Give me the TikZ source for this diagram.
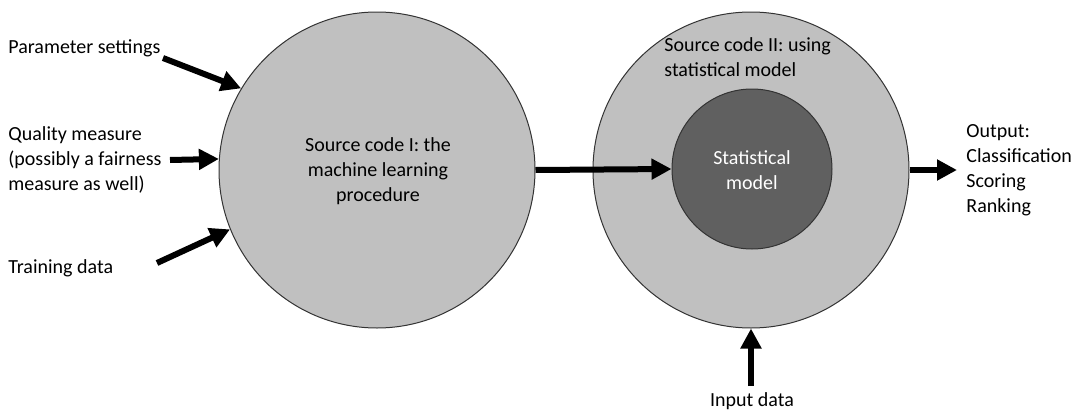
\documentclass[tikz,border=0pt]{standalone}
\usepackage{fontspec}
\setmainfont{Carlito}
\usetikzlibrary{arrows.meta}
\definecolor{outerc}{RGB}{192,192,192}
\definecolor{innerc}{RGB}{96,96,96}
\newcommand{\Rbig}{316}
\newcommand{\Rsmall}{160}

\begin{document}
\begin{tikzpicture}[
    x=0.5pt, y=-0.5pt,
    every node/.style={font=\fontsize{10}{12.5}\selectfont},
    outer/.style={circle, draw=black!80, line width=0.5pt, fill=outerc,
      minimum size=\Rbig*0.5pt, inner sep=0pt},
    inner/.style={circle, draw=black!80, line width=0.5pt, fill=innerc,
      minimum size=\Rsmall*0.5pt, inner sep=0pt},
    flow/.style={-{Triangle[length=10pt, width=10pt]}, line width=3pt},
    tag/.style={align=left, inner sep=0pt},
  ]
  \useasboundingbox (0,0) rectangle (1084,413);

  % --- the two procedures
  \node[outer] (src1) at (377,170) {};
  \node[align=center, inner sep=0pt] (src1txt) at (378,171)
    {Source code I: the\\machine learning\\procedure};
  \node[outer] (src2) at (751,170) {};
  \node[inner] (stat) at (752,169) {};
  \node[align=center, inner sep=0pt, text=white] (stattxt) at (752,170)
    {Statistical\\model};
  \node[tag, anchor=west] (src2txt) at (664,57)
    {Source code II: using\\statistical model};

  % --- inputs on the left
  \node[tag, anchor=west] (param) at (8,48) {Parameter settings};
  \node[tag, anchor=west] (qual) at (8,160)
    {Quality measure\\(possibly a fairness\\measure as well)};
  \node[tag, anchor=west] (train) at (8,268) {Training data};
  \coordinate (paramS) at (163,58);
  \coordinate (qualS) at (170,160);
  \coordinate (trainS) at (157,263);
  \draw[flow] (paramS) -- (src1.149);
  \draw[flow] (qualS) -- (src1.176);
  \draw[flow] (trainS) -- (src1.202);

  % --- model hand-over, output and input data
  \draw[flow] (src1.east) -- (stat.west);
  \node[tag, anchor=west] (out) at (966,170)
    {Output:\\Classification\\Scoring\\Ranking};
  \coordinate (outE) at (957,170);
  \draw[flow] (src2.east) -- (outE);
  \node[inner sep=0pt] (inp) at (752,401) {Input data};
  \coordinate (inpS) at (751,386);
  \draw[flow] (inpS) -- (src2.south);

\end{tikzpicture}
\end{document}
